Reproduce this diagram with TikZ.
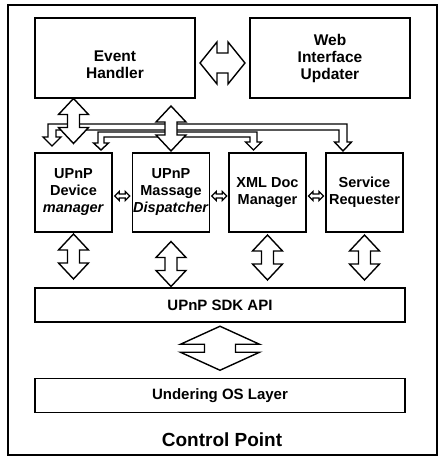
\documentclass[tikz,border=0pt]{standalone}
\usepackage{fontspec}
\setmainfont{Liberation Sans}
\usetikzlibrary{calc}
\begin{document}
\begin{tikzpicture}[x=1pt,y=-1pt,
  lw/.style={line width=1.4pt},
  box/.style={draw, lw, fill=white, align=center, inner sep=0pt,
    font=\fontsize{15.5}{17}\selectfont\bfseries},
  midbox/.style={box, minimum width=77, minimum height=79,
    font=\fontsize{14.5}{17}\selectfont\bfseries},
  layer/.style={box, minimum width=370, minimum height=34,
    font=\fontsize{15}{17}\selectfont\bfseries},
  hollowline/.style={draw, fill=white, lw, line join=miter},
  % double block arrow: length, head width, shaft width, head length
  pics/dbl/.style n args={4}{code={
    \path[hollowline] ({-#1/2},0) -- ({-#1/2+#4},{#2/2}) -- ({-#1/2+#4},{#3/2})
      -- ({#1/2-#4},{#3/2}) -- ({#1/2-#4},{#2/2}) -- ({#1/2},0)
      -- ({#1/2-#4},{-#2/2}) -- ({#1/2-#4},{-#3/2}) -- ({-#1/2+#4},{-#3/2})
      -- ({-#1/2+#4},{-#2/2}) -- cycle;
  }},
  bus/.style={hollowline}
]
\useasboundingbox (0,0) rectangle (441,461);
\node[draw, line width=2pt, minimum width=429, minimum height=450, inner sep=0pt] (frame) at (222.5,230) {};

\node[box, minimum width=160, minimum height=80, text depth=0pt] (evh) at (115,58) {\raisebox{-4pt}{\begin{tabular}{@{}c@{}}Event\\Handler\end{tabular}}};
\node[box, minimum width=160, minimum height=80] (web) at (330,58) {Web\\Interface\\Updater};

\node[midbox] (dev) at (73.5,192.5) {UPnP\\Device\\\textit{manager}};
\node[midbox] (dis) at (171,192.5) {UPnP\\Massage\\\textit{Dispatcher}};
\node[midbox] (xml) at (267.5,192.5) {XML Doc\\Manager};
\node[midbox] (srv) at (364.5,192.5) {Service\\Requester};

\node[layer] (sdk) at (220,305) {UPnP SDK API};
\node[layer] (os) at (220,395.5) {Undering OS Layer};

\node[font=\fontsize{19}{21}\selectfont\bfseries] (title) at (222,440) {Control Point};

% horizontal arrow between top boxes
\pic[yshift=-5pt] (aew) at ($(evh.east)!0.5!(web.west)$) {dbl={45}{42}{20}{17}};

% bus connectors
\path[bus] (56,130) -- (56,137) -- (61,137) -- (52,146) -- (43,137) -- (48,137)
  -- (48,124) -- (347,124) -- (347,142) -- (351.5,142) -- (343,151) -- (334.5,142)
  -- (339,142) -- (339,130) -- cycle;
\path[bus] (104,137) -- (104,143) -- (108.5,143) -- (101,150) -- (93.5,143) -- (98,143)
  -- (98,132) -- (257,132) -- (257,142) -- (261.5,142) -- (253.5,150) -- (245.5,142)
  -- (250,142) -- (250,137) -- cycle;

% vertical arrows event handler <-> modules
\pic[rotate=90, xshift=4.5pt] (ae1) at ($(evh.south -| dev.north)!0.5!(dev.north)$) {dbl={45}{30}{12}{16}};
\pic[rotate=90, xshift=-3pt] (ae2) at ($(evh.south -| dis.north)!0.5!(dis.north)$) {dbl={45}{30}{12}{16}};

% small arrows between modules
\pic[yshift=-3.5pt] (s1) at ($(dev.east)!0.5!(dis.west)$) {dbl={15}{9}{4}{4.5}};
\pic[yshift=-3.5pt] (s2) at ($(dis.east)!0.5!(xml.west)$) {dbl={15}{9}{4}{4.5}};
\pic[yshift=-3.5pt] (s3) at ($(xml.east)!0.5!(srv.west)$) {dbl={15}{9}{4}{4.5}};

% vertical arrows modules <-> SDK
\pic[rotate=90, xshift=3.5pt] (d1) at ($(dev.south)!0.5!(dev.south |- sdk.north)$) {dbl={45}{30}{12}{16}};
\pic[rotate=90, xshift=-4pt] (d2) at ($(dis.south)!0.5!(dis.south |- sdk.north)$) {dbl={45}{30}{12}{16}};
\pic[rotate=90, xshift=2.5pt] (d3) at ($(xml.south)!0.5!(xml.south |- sdk.north)$) {dbl={45}{30}{12}{16}};
\pic[rotate=90, xshift=2.5pt] (d4) at ($(srv.south)!0.5!(srv.south |- sdk.north)$) {dbl={45}{30}{12}{16}};

% SDK <-> OS
\pic[rotate=90, xshift=2pt] (so) at ($(sdk.south)!0.5!(os.north)$) {dbl={44}{79}{31}{18}};
\end{tikzpicture}
\end{document}
